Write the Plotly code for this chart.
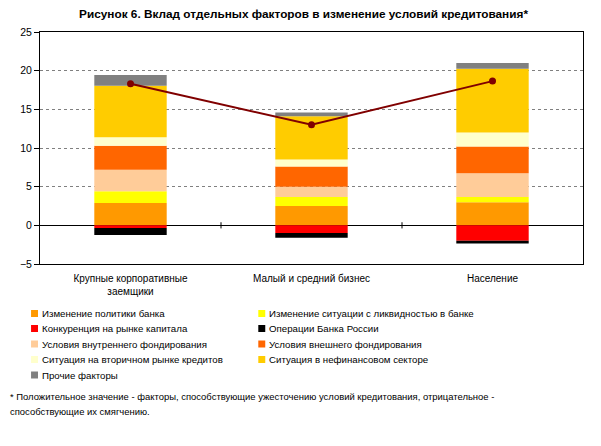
import plotly.graph_objects as go

categories = ["Крупные корпоративные<br>заемщики", "Малый и средний бизнес", "Население"]

series_names = [
    "Изменение политики банка",
    "Изменение ситуации с ликвидностью в банке",
    "Конкуренция на рынке капитала",
    "Операции Банка России",
    "Условия внутреннего фондирования",
    "Условия внешнего фондирования",
    "Ситуация на вторичном рынке кредитов",
    "Ситуация в нефинансовом секторе",
    "Прочие факторы",
]
policy = [2.9, 2.5, 3.0]
liquidity = [1.5, 1.15, 0.65]
competition = [-0.35, -1.0, -2.0]
cbr_operations = [-0.9, -0.6, -0.35]
internal_funding = [2.8, 1.35, 3.1]
external_funding = [3.1, 2.6, 3.45]
secondary_market = [1.1, 0.9, 1.8]
nonfinancial = [6.65, 5.6, 8.25]
other = [1.4, 0.5, 0.75]
net_total = [18.3, 13.0, 18.65]

series_values = [policy, liquidity, competition, cbr_operations, internal_funding,
                 external_funding, secondary_market, nonfinancial, other]
colors = ["#FF9900", "#FFFF00", "#FF0000", "#000000", "#FFCC99",
          "#FF6600", "#FFFFCC", "#FFCC00", "#808080"]

y_ticks = [-5, 0, 5, 10, 15, 20, 25]

footnote_lines = [
    "* Положительное значение - факторы, способствующие ужесточению условий кредитования, отрицательное -",
    "способствующие их смягчению.",
]

FONT = "Liberation Sans"
FS = 9.7

# page body has an 8px margin: work in screen pixels and convert
OFF = 8
W, H = 601 - OFF, 446 - OFF
PL, PR, PT, PB = 37, 583, 32, 264  # plot area in screen pixels
L, T = PL - OFF, PT - OFF
R = W - (PR - OFF)
B = H - (PB - OFF)
PW, PH = PR - PL, PB - PT


def px_x(x):
    return (x - PL) / PW


def px_y(y):
    return (PB - y) / PH


fig = go.Figure()
for name, vals, col in zip(series_names, series_values, colors):
    fig.add_trace(go.Bar(x=categories, y=vals, name=name, marker_color=col,
                         marker_line_width=0, width=0.4, showlegend=False))

fig.add_trace(go.Scatter(x=categories, y=net_total, mode="lines+markers",
                         line=dict(color="#800000", width=2),
                         marker=dict(color="#800000", size=7), showlegend=False))

shapes = []
for xb in [0.5, 1.5]:
    shapes.append(dict(type="line", xref="x", yref="y", x0=xb, x1=xb, y0=-0.4, y1=0.4,
                       line=dict(color="black", width=1)))

# legend (two columns)
annotations = []
col_marker_x = [31.5, 260]
row_y = [313.5, 328.5, 344, 359.5, 375]
for i, (name, col) in enumerate(zip(series_names, colors)):
    r, c = divmod(i, 2)
    mx, my = col_marker_x[c], row_y[r]
    shapes.append(dict(type="rect", xref="paper", yref="paper",
                       x0=px_x(mx - 3.5), x1=px_x(mx + 3.5), y0=px_y(my + 3.5), y1=px_y(my - 3.5),
                       fillcolor=col, line=dict(width=0)))
    annotations.append(dict(xref="paper", yref="paper", x=px_x(mx + 5.5), y=px_y(my),
                            xanchor="left", yanchor="middle", text=name, showarrow=False,
                            font=dict(family=FONT, size=FS, color="black")))

for k, line in enumerate(footnote_lines):
    annotations.append(dict(xref="paper", yref="paper", x=px_x(5), y=px_y(396 + 15 * k),
                            xanchor="left", yanchor="middle", align="left", showarrow=False,
                            text=line, font=dict(family=FONT, size=9.45, color="black")))

fig.update_layout(
    width=W, height=H,
    margin=dict(l=L, r=R, t=T, b=B),
    barmode="relative",
    paper_bgcolor="white", plot_bgcolor="white",
    title=dict(text="<b>Рисунок 6. Вклад отдельных факторов в изменение условий кредитования*</b>",
               x=px_x(302), xref="paper", xanchor="center", y=1 - (14 - OFF) / H, yanchor="middle",
               font=dict(family=FONT, size=11.8, color="black")),
    font=dict(family=FONT, size=FS, color="black"),
    shapes=shapes, annotations=annotations,
    showlegend=False,
)
fig.update_xaxes(showline=True, linecolor="black", linewidth=1, mirror=True,
                 showgrid=False, ticks="", ticklabelstandoff=5,
                 tickfont=dict(family=FONT, size=10, color="black"))
fig.update_yaxes(range=[-5, 25], tickvals=y_ticks, showline=True, linecolor="black", linewidth=1,
                 mirror=True, ticks="outside", ticklen=5, tickcolor="black",
                 showgrid=True, gridcolor="#808080", griddash="3px,3px", gridwidth=1,
                 zeroline=True, zerolinecolor="black", zerolinewidth=1,
                 tickfont=dict(family=FONT, size=10.5, color="black"))

fig.write_html("out.html")
